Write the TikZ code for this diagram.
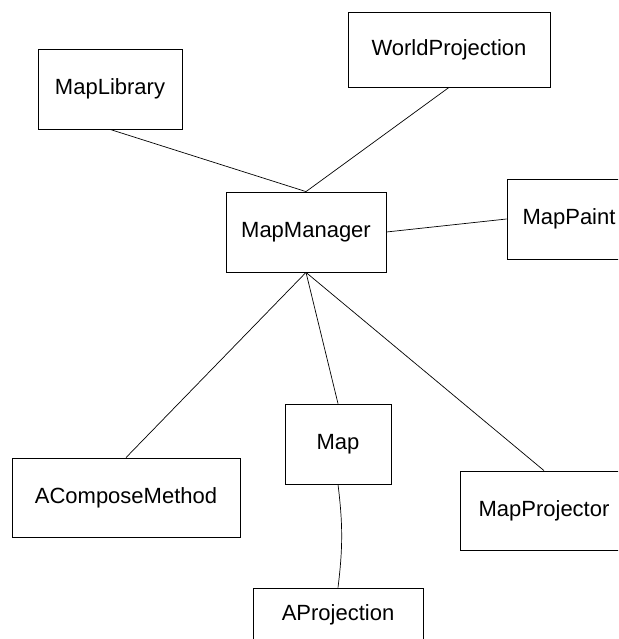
\documentclass[tikz,border=0pt]{standalone}
\usepackage{fontspec}
\setmainfont{Liberation Sans}
\tikzset{
  ClassBox/.style={draw=black,line width=0.8pt,rectangle,inner sep=0pt,
    minimum height=80pt,font=\fontsize{22}{26}\selectfont},
  LinkLine/.style={line width=0.7pt,color=black}
}

\begin{document}
\begin{tikzpicture}[x=1pt,y=-1pt]
\clip (0,0) rectangle (618,639);

\node[ClassBox,minimum width=144pt] (MapLib) at (110,89) {MapLibrary};
\node[ClassBox,minimum width=202pt,minimum height=75pt] (WorldProj) at (449,49.5) {WorldProjection};
\node[ClassBox,minimum width=160pt] (MapMgr) at (306,232) {MapManager};
\node[ClassBox,minimum width=124pt] (MapPaint) at (569,219) {MapPaint};
\node[ClassBox,minimum width=228pt,minimum height=79pt] (Compose) at (126,497.5) {AComposeMethod};
\node[ClassBox,minimum width=106pt] (MapNode) at (338,444) {Map};
\node[ClassBox,minimum width=168pt,minimum height=79pt] (MapProj) at (544,510.5) {MapProjector};
\node[ClassBox,minimum width=170pt,minimum height=54pt] (AProj) at (338,615) {AProjection};

\draw[LinkLine] (MapLib.south) -- (MapMgr.north);
\draw[LinkLine] (WorldProj.south) -- (MapMgr.north);
\draw[LinkLine] (MapMgr.east) -- (MapPaint.west);
\draw[LinkLine] (MapMgr.south) -- (Compose.north);
\draw[LinkLine] (MapMgr.south) -- (MapNode.north);
\draw[LinkLine] (MapMgr.south) -- (MapProj.north);
\draw[LinkLine] (MapNode.south) to[bend left=7] (AProj.north);

\end{tikzpicture}
\end{document}
